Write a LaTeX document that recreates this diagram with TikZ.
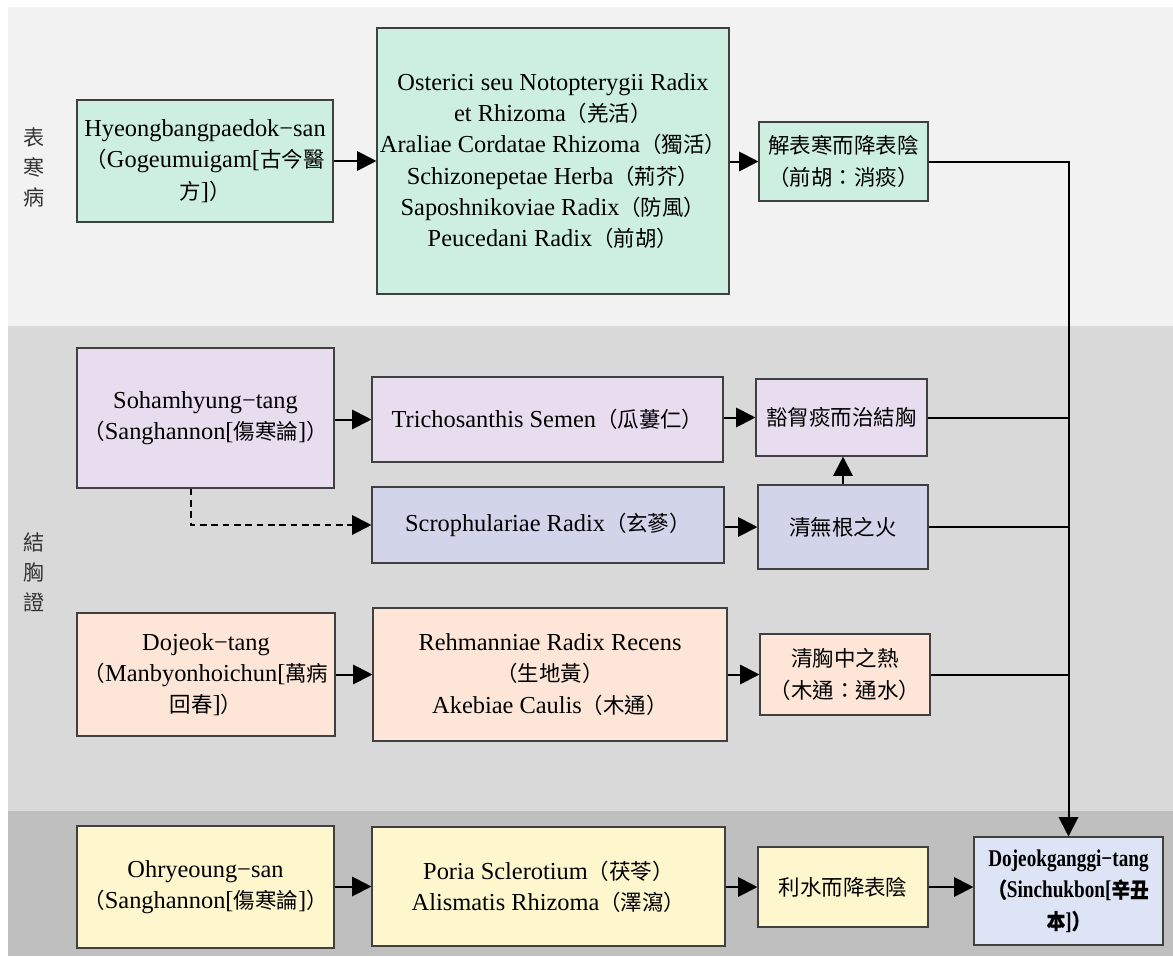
\documentclass[tikz,border=0pt]{standalone}
\usepackage{fontspec}
\setmainfont{Liberation Serif}
\newfontfamily\cjkfont[Scale=0.88]{Noto Sans CJK TC}
\newfontfamily\cjkbfont[Scale=0.88,FakeBold=0.6,FakeStretch=0.88]{Noto Sans CJK TC}
\newfontfamily\resfont[FakeStretch=0.8]{Liberation Serif}
\usetikzlibrary{arrows.meta}
\newcommand\cj[1]{{\cjkfont #1}}
\newcommand\cjB[1]{{\cjkbfont #1}}
\definecolor{bandtop}{HTML}{F2F2F2}
\definecolor{bandmid}{HTML}{D9D9D9}
\definecolor{bandbot}{HTML}{BFBFBF}
\definecolor{cgreen}{HTML}{CCEFE1}
\definecolor{cpink}{HTML}{E8DDEF}
\definecolor{cblue}{HTML}{D2D4EA}
\definecolor{cpeach}{HTML}{FDE6D7}
\definecolor{cyellow}{HTML}{FEF6CD}
\definecolor{cres}{HTML}{DCE4F6}
\tikzset{
  bx/.style={draw=black!75, line width=0.8pt, align=center, inner sep=0pt,
    font=\fontsize{18.3}{23.5}\selectfont},
  arr/.style={-{Triangle[length=14.5pt,width=14.5pt]}, line width=1.5pt},
  ln/.style={line width=1.5pt},
  side/.style={align=center, text=black!80, font=\fontsize{18}{22.5}\selectfont},
}
\begin{document}
\begin{tikzpicture}[x=0.75pt,y=-0.75pt]
\useasboundingbox (0,0) rectangle (1173,956);
\fill[white] (0,0) rectangle (1173,956);
\fill[bandtop] (8,7) rectangle (1173,326);
\fill[bandmid] (8,326) rectangle (1173,811);
\fill[bandbot] (8,811) rectangle (1173,956);

\node[side] (L1) at (34,167) {\cj{表}\\\cj{寒}\\\cj{病}};
\node[side] (L2) at (34,572) {\cj{結}\\\cj{胸}\\\cj{證}};

% row A
\node[bx, fill=cgreen, minimum width=192pt, minimum height=91.5pt] (A1) at (205,161)
 {Hyeongbangpaedok−san\\\cj{（}Gogeumuigam[\cj{古今醫}\\\cj{方}]\cj{）}};
\node[bx, fill=cgreen, minimum width=264pt, minimum height=199.5pt] (A2) at (553,161)
 {Osterici seu Notopterygii Radix\\et Rhizoma\cj{（羌活）}\\Araliae Cordatae Rhizoma\cj{（獨活）}\\Schizonepetae Herba\cj{（荊芥）}\\Saposhnikoviae Radix\cj{（防風）}\\Peucedani Radix\cj{（前胡）}};
\node[bx, fill=cgreen, minimum width=126.75pt, minimum height=59.25pt] (A3) at (843.5,161.5)
 {\cj{解表寒而降表陰}\\\cj{（前胡：消痰）}};

% row B
\node[bx, fill=cpink, minimum width=192.75pt, minimum height=105pt] (B1) at (205.5,418)
 {Sohamhyung−tang\\\cj{（}Sanghannon[\cj{傷寒論}]\cj{）}};
\node[bx, fill=cpink, minimum width=263.25pt, minimum height=63.75pt] (B2) at (547.5,419.5)
 {Trichosanthis Semen\cj{（瓜蔞仁）}};
\node[bx, fill=cpink, minimum width=128.25pt, minimum height=57.75pt] (B3) at (841.5,417.5)
 {\cj{豁胷痰而治結胸}};
\node[bx, fill=cblue, minimum width=264pt, minimum height=57pt] (B5) at (548,525)
 {Scrophulariae Radix\cj{（玄蔘）}};
\node[bx, fill=cblue, minimum width=127.5pt, minimum height=63pt] (B4) at (843,527)
 {\cj{清無根之火}};

% row C
\node[bx, fill=cpeach, minimum width=193.5pt, minimum height=92.25pt] (C1) at (206,674.5)
 {Dojeok−tang\\\cj{（}Manbyonhoichun[\cj{萬病}\\\cj{回春}]\cj{）}};
\node[bx, fill=cpeach, minimum width=265.5pt, minimum height=99.75pt] (C2) at (550,674.5)
 {Rehmanniae Radix Recens\\\cj{（生地黃）}\\Akebiae Caulis\cj{（木通）}};
\node[bx, fill=cpeach, minimum width=127.5pt, minimum height=60.75pt] (C3) at (845,674.5)
 {\cj{清胸中之熱}\\\cj{（木通：通水）}};

% row D
\node[bx, fill=cyellow, minimum width=192.75pt, minimum height=91.5pt] (D1) at (205.5,887)
 {Ohryeoung−san\\\cj{（}Sanghannon[\cj{傷寒論}]\cj{）}};
\node[bx, fill=cyellow, minimum width=264.75pt, minimum height=89.25pt] (D2) at (548.5,886.5)
 {Poria Sclerotium\cj{（茯苓）}\\Alismatis Rhizoma\cj{（澤瀉）}};
\node[bx, fill=cyellow, minimum width=127.5pt, minimum height=60pt] (D3) at (843,887)
 {\cj{利水而降表陰}};

\node[bx, fill=cres, minimum width=141.75pt, minimum height=81pt,
  font=\resfont\bfseries\fontsize{18}{23.5}\selectfont] (R) at (1068.5,891)
 {Dojeokganggi−tang\\\cjB{（}Sinchukbon[\cjB{辛丑}\\\cjB{本}]\cjB{）}};

% connectors
\draw[arr] (A1.east) -- (A1.east -| A2.west);
\draw[arr] (A2.east |- A3.west) -- (A3.west);
\draw[arr] (A3.east) -| (R.north);

\draw[arr] (B1.east |- B2.west) -- (B2.west);
\draw[arr] (B2.east |- B3.west) -- (B3.west);
\draw[arr] (B5.east |- B4.west) -- (B4.west);
\draw[arr] (B4.north) -- (B4.north |- B3.south);
\draw[arr, dashed, dash pattern=on 5pt off 3.5pt] ([xshift=-10.9pt]B1.south) |- (B5.west);
\draw[ln] (B3.east) -- (B3.east -| R.north);
\draw[ln] (B4.east) -- (B4.east -| R.north);

\draw[arr] (C1.east |- C2.west) -- (C2.west);
\draw[arr] (C2.east |- C3.west) -- (C3.west);
\draw[ln] (C3.east) -- (C3.east -| R.north);

\draw[arr] (D1.east |- D2.west) -- (D2.west);
\draw[arr] (D2.east |- D3.west) -- (D3.west);
\draw[arr] (D3.east) -- (D3.east -| R.west);
\end{tikzpicture}
\end{document}
